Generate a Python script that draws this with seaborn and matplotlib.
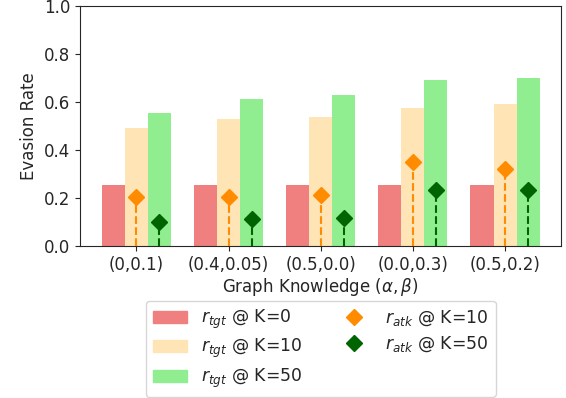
import numpy as np
import pandas as pd
import seaborn as sns
import matplotlib.pyplot as plt
from matplotlib.patches import Patch
from matplotlib.lines import Line2D

# values
knowledge = ['(0,0.1)', '(0.4,0.05)', '(0.5,0.0)', '(0.0,0.3)', '(0.5,0.2)']
tgt_k0 = [0.257, 0.257, 0.257, 0.257, 0.257]
tgt_k10 = [0.494, 0.532, 0.540, 0.578, 0.594]
tgt_k50 = [0.556, 0.615, 0.632, 0.694, 0.703]
atk_k10 = [0.208, 0.208, 0.214, 0.351, 0.324]
atk_k50 = [0.104, 0.115, 0.118, 0.235, 0.236]

bar_labels = [r'$r_{tgt}$ @ K=0', r'$r_{tgt}$ @ K=10', r'$r_{tgt}$ @ K=50']
bar_colors = ['lightcoral', 'moccasin', 'lightgreen']

sns.set_style('ticks')
plt.rcParams['font.family'] = ['DejaVu Sans']

df = pd.DataFrame({
    'knowledge': knowledge * 3,
    'rate': tgt_k0 + tgt_k10 + tgt_k50,
    'series': [bar_labels[0]] * 5 + [bar_labels[1]] * 5 + [bar_labels[2]] * 5,
})

fig, ax = plt.subplots(figsize=(5.66, 3.98), dpi=100)
fig.subplots_adjust(left=0.1413, right=0.992, top=0.9837, bottom=0.3807)

sns.barplot(data=df, x='knowledge', y='rate', hue='series', palette=bar_colors,
            saturation=1, width=0.75, linewidth=0, ax=ax, legend=False)

x = np.arange(len(knowledge))
# stems for attacker rates
ax.vlines(x, 0, atk_k10, colors='darkorange', linestyles='--', lw=1.5, zorder=3)
ax.plot(x, atk_k10, 'D', color='darkorange', markersize=8, zorder=4)
ax.vlines(x + 0.25, 0, atk_k50, colors='darkgreen', linestyles='--', lw=1.5, zorder=3)
ax.plot(x + 0.25, atk_k50, 'D', color='darkgreen', markersize=8, zorder=4)

ax.set_ylim(0, 1.0)
ax.set_xlabel(r'Graph Knowledge ($\alpha, \beta$)', fontsize=12, labelpad=1)
ax.set_ylabel('Evasion Rate', fontsize=12)
ax.tick_params(labelsize=12)
ax.set_xticks(x)
ax.set_xticklabels(knowledge)

handles = [Patch(color=c, label=l) for c, l in zip(bar_colors, bar_labels)]
handles += [
    Line2D([], [], marker='D', color='darkorange', ls='none', markersize=8,
           label=r'$r_{atk}$ @ K=10'),
    Line2D([], [], marker='D', color='darkgreen', ls='none', markersize=8,
           label=r'$r_{atk}$ @ K=50'),
]
ax.legend(handles=handles, loc='upper center', bbox_to_anchor=(0.5, -0.227),
          borderaxespad=0, ncol=2, fontsize=12.4, frameon=True, labelspacing=0.36)

fig.savefig('out.png', dpi=100)
